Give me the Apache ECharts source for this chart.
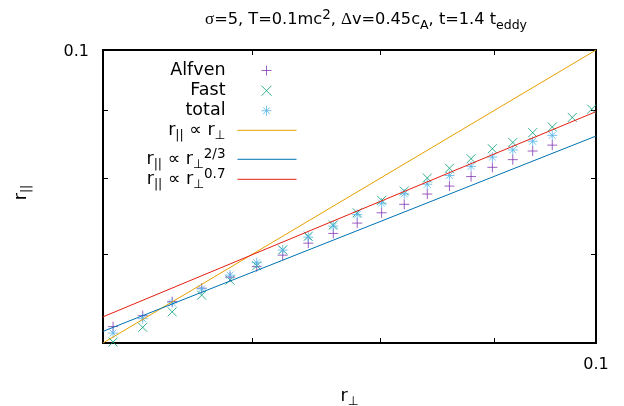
<!DOCTYPE html>
<html><head><meta charset="utf-8">
<script src="https://cdn.jsdelivr.net/npm/echarts@6/dist/echarts.min.js"></script>
<style>html,body{margin:0;padding:0;background:#fff}#c{width:624px;height:406px}</style>
</head><body><div id="c"></div>
<script>
// ---- data ----
const rPerp = [0.06063,0.06252,0.06446,0.06646,0.06844,0.07036,0.07228,0.07422,0.07617,0.07808,0.08008,0.08198,0.08396,0.08591,0.08786,0.08982,0.09174,0.09365,0.09557,0.09757,0.09955];
const alfven = [0.06174,0.06293,0.06449,0.06602,0.06730,0.06854,0.06993,0.07141,0.07263,0.07395,0.07529,0.07641,0.07779,0.07888,0.08020,0.08150,0.08260,0.08385,0.08472];
const fast = [0.0601,0.06166,0.06335,0.06522,0.06695,0.06866,0.07058,0.07228,0.07372,0.07529,0.07694,0.07820,0.08000,0.08137,0.08273,0.08419,0.08511,0.08658,0.08744,0.08890,0.09020];
const total = [0.06105,0.06260,0.06436,0.06594,0.06754,0.06902,0.07055,0.07216,0.07356,0.07506,0.07657,0.07782,0.07913,0.08035,0.08164,0.08297,0.08400,0.08529,0.08617];
const fitX = [0.06, 0.1];
const fitLinear = [0.06, 0.1];
const fitTwoThirds = [0.06123, 0.08607];
const fitPointSeven = [0.0628, 0.08981];
const axisMin = 0.06, axisMax = 0.1;
const minorTicks = [0.07, 0.08, 0.09];
const tickLabels = [0.1];

const FONT = "'DejaVu Sans', 'Liberation Sans', Arial, sans-serif";
const SERIF = "'Liberation Serif', 'DejaVu Serif', serif";
const RICH = {
  s: {fontSize: 12.5, lineHeight: 10, verticalAlign: 'bottom', fontFamily: FONT, color: '#000'},
  p: {fontSize: 13.5, lineHeight: 8, verticalAlign: 'top', fontFamily: FONT, color: '#000'},
  g: {fontSize: 17, fontFamily: SERIF, color: '#000'}
};
const SYM_PLUS = 'path://M0,5L10,5M5,0L5,10';
const SYM_CROSS = 'path://M0,0L10,10M10,0L0,10';
const SYM_STAR = 'path://M0,5L10,5M5,0L5,10M1.6,1.6L8.4,8.4M8.4,1.6L1.6,8.4';

const LABELS = {
  'Alfven': 'Alfven',
  'Fast': 'Fast',
  'total': 'total',
  'lin': 'r{s|||} ∝ r{s|⊥}',
  'twothirds': 'r{s|||} ∝ r{s|⊥}{p|2/3}',
  'pointseven': 'r{s|||} ∝ r{s|⊥}{p|0.7}'
};

function pairs(xs, ys){ return ys.map((y,i)=>[xs[i], y]); }
function isLabel(v){ return tickLabels.some(t => Math.abs(v - t) < 1e-9); }

function markerLegend(name, top, size){
  return {
    data: [name], orient: 'vertical', right: 624 - 267 - size / 2, top: top, align: 'right',
    itemWidth: size, itemHeight: size, padding: 0, itemGap: 0, selectedMode: false,
    itemStyle: {borderWidth: 1},
    formatter: n => LABELS[n],
    textStyle: {fontSize: 17.5, color: '#000', fontFamily: FONT, lineHeight: 20,
                padding: [0, 36 - size / 2, 0, 0], rich: RICH}
  };
}
function lineLegend(name, top){
  return {
    data: [name], orient: 'vertical', right: 327, top: top, align: 'right',
    itemWidth: 59, itemHeight: 12, padding: 0, itemGap: 0, selectedMode: false,
    itemStyle: {color: 'transparent', borderWidth: 0, opacity: 0},
    lineStyle: {width: 1},
    formatter: n => LABELS[n],
    textStyle: {fontSize: 17.5, color: '#000', fontFamily: FONT, lineHeight: 24,
                padding: [0, 7, 0, 0], rich: RICH}
  };
}

const chart = echarts.init(document.getElementById('c'), null, {renderer: 'canvas'});
const axisBase = {type: 'log', min: axisMin, max: axisMax, logBase: 10,
  axisLine: {show: false}, splitLine: {show: false}, minorTick: {show: false},
  axisTick: {show: true, inside: true, length: 5, customValues: minorTicks, lineStyle: {color: '#000', width: 1}}};
chart.setOption({
  animation: false,
  backgroundColor: '#fff',
  title: {
    text: '{g|σ}=5, T=0.1mc{p|2}, {g|Δ}v=0.45c{s|A}, t=1.4 t{s|eddy}',
    left: 366, top: 8, textAlign: 'center', padding: 0,
    textStyle: {fontSize: 16.2, fontWeight: 'normal', color: '#000', fontFamily: FONT, lineHeight: 24, rich: RICH}
  },
  grid: {left: 103, right: 28, top: 50, bottom: 63, show: true, borderColor: '#000', borderWidth: 2,
         backgroundColor: 'transparent', containLabel: false, outerBoundsMode: 'none'},
  xAxis: [
    Object.assign({}, axisBase, {position: 'bottom',
      name: 'r{s|⊥}', nameLocation: 'middle', nameGap: 41,
      nameTextStyle: {fontSize: 17.5, color: '#000', fontFamily: FONT, lineHeight: 24, rich: RICH},
      axisLabel: {show: true, margin: 14, fontSize: 16, color: '#000', fontFamily: FONT,
        formatter: v => isLabel(v) ? String(v) : ''}}),
    Object.assign({}, axisBase, {position: 'top', axisLabel: {show: false}})
  ],
  yAxis: [
    Object.assign({}, axisBase, {position: 'left',
      name: 'r{s|||}', nameLocation: 'middle', nameGap: 70, nameRotate: 90,
      nameTextStyle: {fontSize: 17.5, color: '#000', fontFamily: FONT, lineHeight: 24, rich: RICH, padding: [0, 0, 0, 8]},
      axisLabel: {show: true, margin: 14, fontSize: 16, color: '#000', fontFamily: FONT,
        verticalAlign: 'top', lineHeight: 4,
        formatter: v => isLabel(v) ? String(v) : ''}}),
    Object.assign({}, axisBase, {position: 'right', axisLabel: {show: false}})
  ],
  legend: [
    markerLegend('Alfven', 60.5, 10),
    markerLegend('Fast', 80.7, 10),
    markerLegend('total', 100.7, 10),
    lineLegend('lin', 118.3),
    lineLegend('twothirds', 147.3),
    lineLegend('pointseven', 167.3)
  ],
  series: [
    {name: 'Alfven', type: 'scatter', data: pairs(rPerp, alfven), symbol: SYM_PLUS, symbolSize: 10,
     itemStyle: {color: '#8338b4', borderColor: '#8338b4', borderWidth: 1}},
    {name: 'Fast', type: 'scatter', data: pairs(rPerp, fast), symbol: SYM_CROSS, symbolSize: 9,
     itemStyle: {color: '#009e73', borderColor: '#009e73', borderWidth: 1}},
    {name: 'total', type: 'scatter', data: pairs(rPerp, total), symbol: SYM_STAR, symbolSize: 10,
     itemStyle: {color: '#56b4e9', borderColor: '#56b4e9', borderWidth: 1}},
    {name: 'lin', type: 'line', data: pairs(fitX, fitLinear), symbol: 'none',
     lineStyle: {color: '#e69f00', width: 1}, itemStyle: {color: '#e69f00'}},
    {name: 'twothirds', type: 'line', data: pairs(fitX, fitTwoThirds), symbol: 'none',
     lineStyle: {color: '#0072b2', width: 1}, itemStyle: {color: '#0072b2'}},
    {name: 'pointseven', type: 'line', data: pairs(fitX, fitPointSeven), symbol: 'none',
     lineStyle: {color: '#e51e10', width: 1}, itemStyle: {color: '#e51e10'}}
  ]
});
</script>
</body></html>
